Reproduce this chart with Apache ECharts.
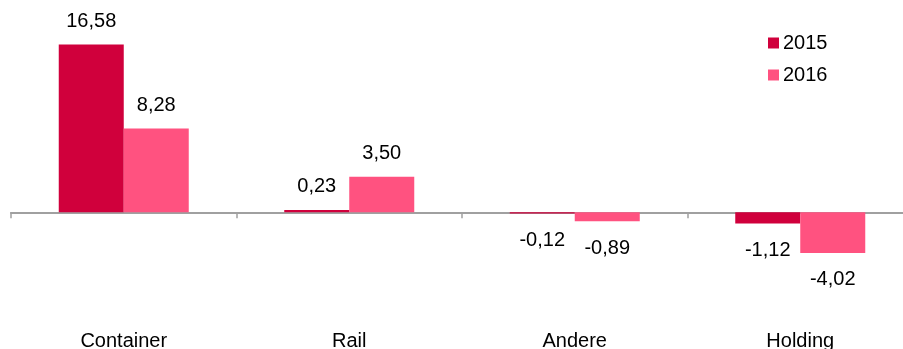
<!DOCTYPE html>
<html>
<head>
<meta charset="utf-8">
<script src="https://cdn.jsdelivr.net/npm/echarts@6/dist/echarts.min.js"></script>
<style>html,body{margin:0;padding:0;background:#fff;}#c{width:903px;height:349px;}</style>
</head>
<body>
<div id="c"></div>
<script>
const categories = ['Container', 'Rail', 'Andere', 'Holding'];
const values2015 = [16.58, 0.23, -0.12, -1.12];
const values2016 = [8.28, 3.50, -0.89, -4.02];
const seriesNames = ['2015', '2016'];

const FONT = '"Liberation Sans", Arial, sans-serif';
function fmt(v) { return v.toFixed(2).replace('.', ','); }
function withLabels(arr) {
  return arr.map(v => ({
    value: v,
    label: v >= 0 ? { position: 'top', distance: 13 } : { position: 'bottom', distance: 17 }
  }));
}
const chart = echarts.init(document.getElementById('c'));
chart.setOption({
  animation: false,
  textStyle: { fontFamily: FONT },
  legend: {
    orient: 'vertical',
    left: 768,
    top: 33,
    padding: 0,
    itemWidth: 11,
    itemHeight: 11,
    itemGap: 12,
    icon: 'rect',
    textStyle: { fontSize: 20, color: '#000', fontFamily: FONT, padding: [0, 0, 0, -1] },
    data: seriesNames
  },
  grid: { left: 11, right: -10, top: 30, bottom: 76, containLabel: false, outerBoundsMode: 'none' },
  xAxis: [
    {
      type: 'category',
      data: categories,
      axisLine: { onZero: true, lineStyle: { color: '#a0a0a0', width: 2 } },
      axisTick: { show: true, length: 6, lineStyle: { color: '#a0a0a0', width: 1.5 } },
      axisLabel: { show: false }
    },
    {
      type: 'category',
      data: categories,
      position: 'bottom',
      axisLine: { show: false, onZero: false },
      axisTick: { show: false },
      axisLabel: { margin: 58, fontSize: 20, color: '#000', fontFamily: FONT, hideOverlap: false }
    }
  ],
  yAxis: {
    type: 'value', min: -6, max: 18, show: false,
    splitLine: { show: false }
  },
  series: [
    {
      name: seriesNames[0], type: 'bar', data: withLabels(values2015),
      barWidth: 65, barGap: '0%',
      itemStyle: { color: '#D0003C' },
      label: { show: true, fontSize: 20, color: '#000', fontFamily: FONT, formatter: p => fmt(p.value) }
    },
    {
      name: seriesNames[1], type: 'bar', data: withLabels(values2016),
      barWidth: 65, barGap: '0%',
      itemStyle: { color: '#FF5280' },
      label: { show: true, fontSize: 20, color: '#000', fontFamily: FONT, formatter: p => fmt(p.value) }
    }
  ]
});
</script>
</body>
</html>
